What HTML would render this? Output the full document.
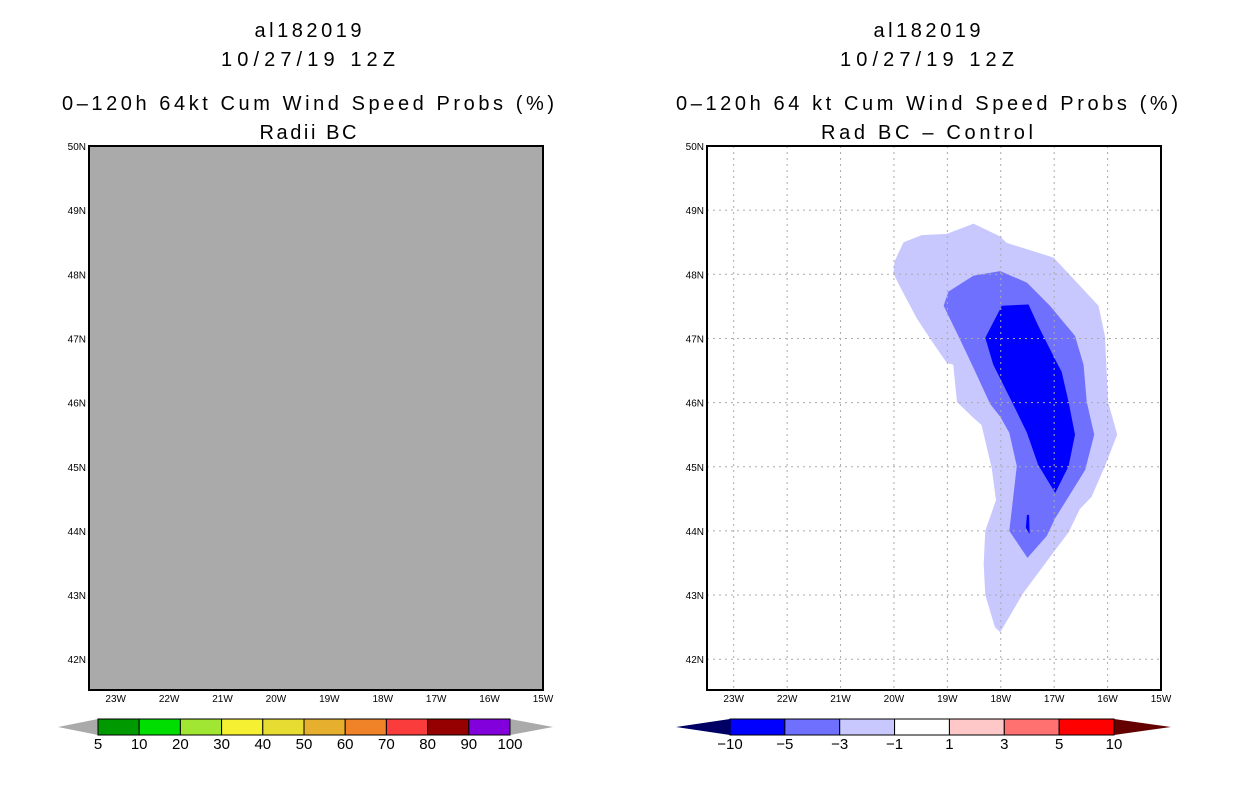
<!DOCTYPE html>
<html><head><meta charset="utf-8"><style>
body{margin:0;background:#fff;}
svg{display:block;font-family:"Liberation Sans",sans-serif;}
</style></head><body>
<svg id="s" width="1236" height="800" xmlns="http://www.w3.org/2000/svg">
<rect width="1236" height="800" fill="#fff"/>
<g font-size="20" text-anchor="middle" fill="#000">
<text x="308" y="37" textLength="107" lengthAdjust="spacing">al182019</text><text x="308" y="66" textLength="174" lengthAdjust="spacing">10/27/19 12Z</text>
<text x="308" y="110" textLength="492" lengthAdjust="spacing">0–120h 64kt Cum Wind Speed Probs (%)</text><text x="308" y="139" textLength="97" lengthAdjust="spacing">Radii BC</text>
</g>
<g font-size="20" text-anchor="middle" fill="#000">
<text x="927" y="37" textLength="107" lengthAdjust="spacing">al182019</text><text x="927" y="66" textLength="174" lengthAdjust="spacing">10/27/19 12Z</text>
<text x="927" y="110" textLength="502" lengthAdjust="spacing">0–120h 64 kt Cum Wind Speed Probs (%)</text><text x="927" y="139" textLength="212" lengthAdjust="spacing">Rad BC – Control</text>
</g>
<g id="L"></g><g id="R"></g><g id="CB"></g>
</svg>
<script>
const NS="http://www.w3.org/2000/svg";
const lonTicks=[-23,-22,-21,-20,-19,-18,-17,-16,-15];
const latTicks=[42,43,44,45,46,47,48,49,50];
const lightPoly=[[-20.01,48.01],[-19.99,48.2],[-19.82,48.5],[-19.48,48.61],[-19.01,48.63],[-18.51,48.79],[-18.01,48.59],[-17.89,48.49],[-17.01,48.26],[-16.17,47.51],[-16.05,47.04],[-15.99,46.01],[-15.82,45.5],[-16.05,45.01],[-16.3,44.53],[-16.52,44.34],[-16.73,43.98],[-17.01,43.67],[-17.58,43.03],[-18.01,42.42],[-18.11,42.5],[-18.29,43.0],[-18.32,43.48],[-18.29,44.0],[-18.09,44.48],[-18.17,44.98],[-18.36,45.65],[-18.51,45.76],[-18.82,46.01],[-18.89,46.59],[-19.01,46.62],[-19.26,46.92],[-19.57,47.31],[-19.82,47.7]];
const medPoly=[[-19.07,47.51],[-18.98,47.73],[-18.51,47.98],[-18.01,48.05],[-17.51,47.87],[-17.08,47.51],[-16.61,47.04],[-16.45,46.59],[-16.39,46.01],[-16.25,45.5],[-16.42,44.95],[-16.77,44.48],[-16.98,44.2],[-17.14,43.92],[-17.5,43.58],[-17.84,44.0],[-17.7,45.01],[-17.84,45.53],[-18.01,45.78],[-18.2,45.98],[-18.51,46.54],[-18.76,46.98]];
const darkPoly=[[-18.29,47.01],[-17.98,47.51],[-17.48,47.53],[-17.3,47.2],[-16.98,46.67],[-16.86,46.48],[-16.73,46.01],[-16.61,45.5],[-16.73,45.01],[-16.98,44.59],[-17.3,45.03],[-17.51,45.53],[-17.79,46.01],[-18.14,46.59]];
const darkSliver=[[-17.51,44.25],[-17.47,44.25],[-17.46,43.95],[-17.53,44.05]];
const leftLevels=["5","10","20","30","40","50","60","70","80","90","100"];
const leftColors=["#009900","#00dd00","#a0e632","#f5f032","#e6dc32","#e6af2d","#f08228","#fa3c3c","#960000","#8200dc"];
const rightLevels=["−10","−5","−3","−1","1","3","5","10"];
const rightColors=["#0000ff","#7070ff","#c8c8ff","#ffffff","#ffc8c8","#ff7070","#ff0000"];

function el(t,a,p){const e=document.createElementNS(NS,t);for(const k in a)e.setAttribute(k,a[k]);p.appendChild(e);return e;}
const B=690,lon0=-23.5,lon1=-15,lat0=41.52,lat1=50;
function mkX(x0){return lon=>x0+(lon-lon0)/(lon1-lon0)*454;}
function yS(lat){return B-(lat-lat0)/(lat1-lat0)*(B-146);}
function axes(g,x0,grid){
  const xS=mkX(x0);
  if(grid){
    lonTicks.forEach(v=>{const l=el('line',{x1:xS(v),x2:xS(v),y1:146,y2:690,stroke:'#aaa','stroke-dasharray':'2,4'},g);

});
    latTicks.forEach(v=>{const l=el('line',{x1:x0,x2:x0+454,y1:yS(v),y2:yS(v),stroke:'#aaa','stroke-dasharray':'2,4'},g);

});
  }
  lonTicks.forEach(v=>{const t=el('text',{x:xS(v),y:702,'font-size':10,'text-anchor':'middle'},g);t.textContent=Math.abs(v)+'W';

});
  latTicks.forEach(v=>{const t=el('text',{x:x0-3,y:yS(v)+4,'font-size':10,'text-anchor':'end'},g);t.textContent=v+'N';

});
  const f=el('rect',{x:x0,y:146,width:454,height:544,fill:'none',stroke:'#000','stroke-width':2},g);


  return xS;
}
const L=document.getElementById('L'),R=document.getElementById('R');
const bg=el('rect',{x:89,y:146,width:454,height:544,fill:'#aaaaaa'},L);


axes(L,89,false);
const xR=mkX(707);
function poly(pts,fill,name){const p=el('polygon',{points:pts.map(q=>xR(q[0])+','+yS(q[1])).join(' '),fill:fill},R);

}
poly(lightPoly,'#c8c8ff','contour-minus1');
poly(medPoly,'#7070ff','contour-minus3');
poly(darkPoly,'#0000ff','contour-minus5');
poly(darkSliver,'#0000ff','contour-minus5-small');
axes(R,707,true);

const CB=document.getElementById('CB');
function cbar(x0,x1,tipL,tipR,cols,levs,lc,rc,name){
  const w=(x1-x0)/cols.length;
  const g=el('g',{},CB);
  
  
  el('polygon',{points:`${tipL},727 ${x0},719 ${x0},735`,fill:lc},g);
  el('polygon',{points:`${tipR},727 ${x1},719 ${x1},735`,fill:rc},g);
  cols.forEach((c,i)=>{const r=el('rect',{x:x0+i*w,y:719,width:w,height:16,fill:c,stroke:'#000','stroke-width':1},g);

});
  levs.forEach((s,i)=>{const t=el('text',{x:x0+i*w,y:749,'font-size':15,'text-anchor':'middle'},g);t.textContent=s;

});
}
cbar(98,510,58,553,leftColors,leftLevels,'#aaaaaa','#aaaaaa','left-colorbar');
cbar(730,1114,676,1171,rightColors,rightLevels,'#000064','#640000','right-colorbar');
</script>
</body></html>
